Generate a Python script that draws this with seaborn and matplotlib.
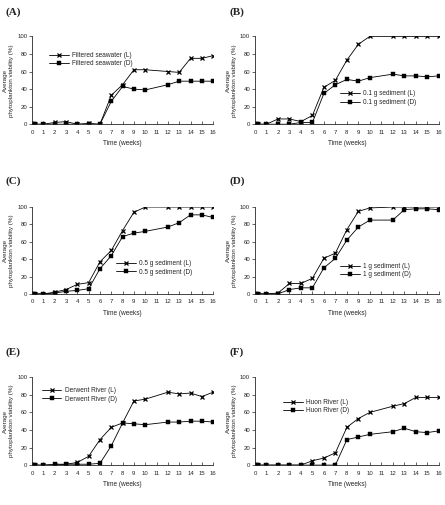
import matplotlib
matplotlib.use("Agg")
import matplotlib.pyplot as plt
import numpy as np
import pandas as pd
import seaborn as sns

# sampling times (weeks); first points are days 0, 1, 2
weeks = [0, 0.14, 0.29, 1, 2, 3, 4, 5, 6, 7, 8, 9, 10, 12, 13, 14, 15, 16]

panel_names = ["(A)", "(B)", "(C)", "(D)", "(E)", "(F)"]
series_names = ["Filtered seawater", "0.1 g sediment", "0.5 g sediment",
                "1 g sediment", "Derwent River", "Huon River"]

light_a = [0, 0, 0, 0, 2, 3, 0, 1, 0, 33, 45, 62, 62, 60, 59, 75, 75, 78]
dark_a = [0, 0, 0, 0, 0, 0, 0, 0, 0, 26, 43, 40, 39, 45, 49, 49, 49, 49]
light_b = [0, 0, 0, 0, 6, 6, 3, 10, 42, 50, 73, 91, 100, 100, 100, 100, 100, 100]
dark_b = [0, 0, 0, 0, 0, 0, 2, 2, 35, 45, 51, 49, 53, 57, 55, 55, 54, 55]
light_c = [0, 0, 0, 0, 2, 5, 11, 13, 37, 50, 73, 94, 100, 100, 100, 100, 100, 100]
dark_c = [0, 0, 0, 0, 1, 3, 4, 6, 29, 44, 66, 70, 72, 77, 82, 91, 91, 88]
light_d = [0, 0, 0, 0, 1, 12, 12, 18, 41, 47, 74, 95, 99, 100, 100, 100, 100, 100]
dark_d = [0, 0, 0, 0, 0, 5, 7, 7, 30, 41, 62, 77, 85, 85, 97, 98, 98, 97]
light_e = [0, 0, 0, 0, 0, 1, 3, 10, 29, 43, 48, 73, 75, 83, 81, 82, 78, 83]
dark_e = [0, 0, 0, 0, 1, 1, 1, 1, 2, 22, 48, 47, 46, 49, 49, 50, 50, 49]
light_f = [0, 0, 0, 0, 0, 0, 0, 5, 8, 14, 43, 53, 60, 67, 70, 77, 77, 77]
dark_f = [0, 0, 0, 0, 0, 0, 0, 0, 0, 0, 29, 32, 35, 38, 42, 38, 37, 39]

light = [light_a, light_b, light_c, light_d, light_e, light_f]
dark = [dark_a, dark_b, dark_c, dark_d, dark_e, dark_f]

sns.set_style("ticks")
plt.rcParams["font.family"] = ["Liberation Sans", "DejaVu Sans"]

fig = plt.figure(figsize=(4.45, 5.05), dpi=100)

# axes boxes [left, bottom, width, height] in figure fractions
boxes = [
    [0.072, 0.754, 0.407, 0.174], [0.573, 0.754, 0.413, 0.174],
    [0.072, 0.418, 0.407, 0.172], [0.573, 0.418, 0.413, 0.172],
    [0.072, 0.079, 0.407, 0.174], [0.573, 0.079, 0.413, 0.174],
]
legend_locs = [(0.08, 0.62), (0.45, 0.18), (0.45, 0.18),
               (0.45, 0.15), (0.04, 0.68), (0.14, 0.55)]
label_pos = [(0.012, 0.986), (0.515, 0.986), (0.012, 0.65),
             (0.515, 0.65), (0.012, 0.313), (0.515, 0.313)]

for i in range(6):
    ax = fig.add_axes(boxes[i])
    # light (L) series: line-art x markers
    sns.lineplot(x=weeks, y=light[i], label=series_names[i] + " (L)", marker="x",
                 color="black", linewidth=0.6, markersize=3.2, markeredgewidth=0.9,
                 markeredgecolor="black", ax=ax)
    # dark (D) series: small filled squares
    sns.lineplot(x=weeks, y=dark[i], label=series_names[i] + " (D)", marker="s",
                 color="black", linewidth=0.6, markersize=2.8, markeredgewidth=0.3,
                 markeredgecolor="black", ax=ax)
    ax.set_xlim(0, 16)
    ax.set_ylim(0, 100)
    ax.set_xticks(range(17))
    ax.set_yticks(range(0, 101, 20))
    ax.tick_params(labelsize=4.3, length=2, width=0.5, pad=1.5)
    ax.tick_params(axis="x", direction="in", pad=4)
    for s in ["top", "right"]:
        ax.spines[s].set_visible(False)
    for s in ["left", "bottom"]:
        ax.spines[s].set_linewidth(0.6)
    ax.set_xlabel("Time (weeks)", fontsize=4.7, labelpad=4)
    ax.set_ylabel("Average\nphytoplankton viability (%)", fontsize=4.5, labelpad=2)
    ax.legend(loc="lower left", bbox_to_anchor=legend_locs[i], frameon=False,
              fontsize=4.7, handlelength=3, handletextpad=0.5, labelspacing=0.2,
              borderaxespad=0)
    fig.text(label_pos[i][0], label_pos[i][1], panel_names[i], fontsize=8,
             fontweight="bold", family="Liberation Serif", va="top", ha="left")

fig.savefig("out.png", dpi=100)
